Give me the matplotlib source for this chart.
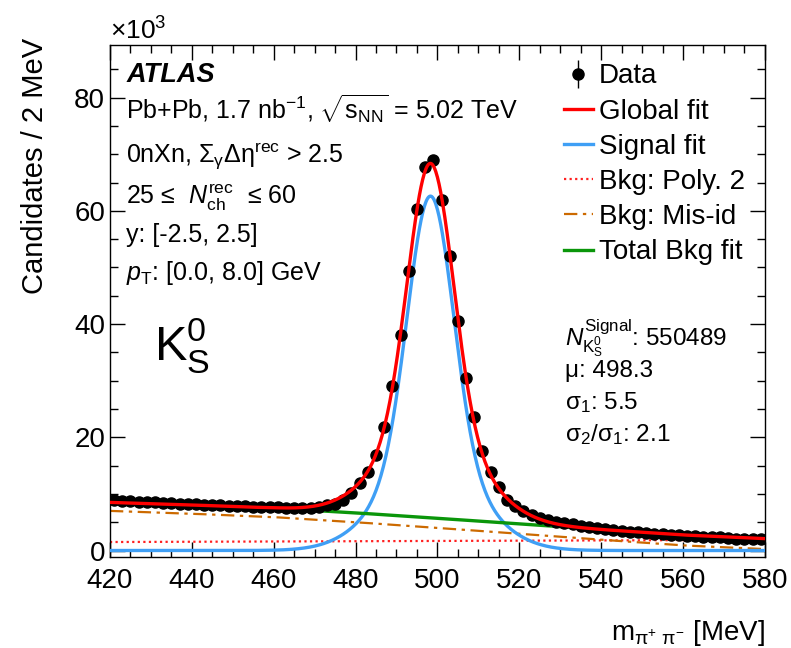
import numpy as np
import matplotlib

matplotlib.use("Agg")
import matplotlib.pyplot as plt
from matplotlib.lines import Line2D
from matplotlib.ticker import MultipleLocator

plt.rcParams["font.family"] = ["Liberation Sans", "DejaVu Sans"]
plt.rcParams["mathtext.fontset"] = "custom"
plt.rcParams["mathtext.rm"] = "Liberation Sans"
plt.rcParams["mathtext.it"] = "Liberation Sans:italic"
plt.rcParams["mathtext.bf"] = "Liberation Sans:bold"

# data, bin centres (MeV) and candidates / 2 MeV in units of 10^3
mass = np.arange(421, 580, 2)
counts = [
    8.9, 8.8, 8.7, 8.6, 8.6, 8.5, 8.4, 8.4, 8.3, 8.2,
    8.2, 8.1, 8.0, 8.0, 7.9, 7.8, 7.8, 7.7, 7.7, 7.6,
    7.6, 7.5, 7.5, 7.5, 7.5, 7.6, 8.0, 8.3, 9.0, 10.2,
    11.9, 13.9, 16.9, 21.9, 29.1, 38.0, 49.3, 60.3, 67.8, 68.9,
    61.9, 52.0, 40.5, 30.4, 23.5, 17.5, 13.8, 11.3, 8.9, 7.9,
    7.0, 6.3, 5.7, 5.4, 5.1, 4.9, 4.7, 4.4, 4.2, 4.0,
    3.8, 3.6, 3.5, 3.3, 3.2, 3.1, 3.0, 2.9, 2.8, 2.7,
    2.6, 2.5, 2.4, 2.3, 2.3, 2.2, 2.1, 2.1, 2.0, 2.0,
]

# signal fit: double gaussian (mu, sigma1, sigma2/sigma1 from the plot)
sig_mu = 498.3
sig_sigma = [5.5, 5.5 * 2.1]
sig_amp = [46.9, 15.7]

# background components sampled every 20 MeV
bkg_x = [420, 440, 460, 480, 500, 520, 540, 560, 580]
bkg_poly2 = [1.5, 1.55, 1.6, 1.65, 1.7, 1.75, 1.8, 1.85, 1.85]
bkg_misid = [7.0, 6.5, 5.9, 5.0, 4.0, 2.95, 1.9, 0.9, 0.25]

xs = np.linspace(420, 580, 801)
signal = sum(a * np.exp(-0.5 * ((xs - sig_mu) / s) ** 2) for a, s in zip(sig_amp, sig_sigma))
poly2 = np.interp(xs, bkg_x, bkg_poly2)
misid = np.interp(xs, bkg_x, bkg_misid)
total_bkg = poly2 + misid
global_fit = signal + total_bkg

RED, BLUE, ORANGE, GREEN = "#ff0000", "#3f9ff5", "#cc6a00", "#0a960a"
DOT = (0, (1, 1.5))
DASHDOT = (0, (6, 2.5, 1.5, 2.5))

fig = plt.figure(figsize=(7.91, 6.48), dpi=100)
ax = fig.add_axes([0.139, 0.1404, 0.828, 0.7902])

ax.plot(xs, poly2, color="#ff2020", lw=1.6, ls=DOT, zorder=2)
ax.plot(xs, misid, color=ORANGE, lw=1.6, ls=DASHDOT, zorder=2)
ax.plot(xs, signal, color=BLUE, lw=2.4, zorder=3)
ax.plot(xs, total_bkg, color=GREEN, lw=2.4, zorder=3)
err = np.sqrt(np.array(counts) * 1000) / 1000
ax.errorbar(mass, counts, yerr=err, fmt="o", color="black", ms=8, elinewidth=1, zorder=4)
ax.plot(xs, global_fit, color=RED, lw=2.4, zorder=5)

ax.set_xlim(420, 580)
ax.set_ylim(-1.15, 89.3)
ax.xaxis.set_major_locator(MultipleLocator(20))
ax.xaxis.set_minor_locator(MultipleLocator(5))
ax.yaxis.set_major_locator(MultipleLocator(20))
ax.yaxis.set_minor_locator(MultipleLocator(5))
ax.tick_params(which="both", direction="in", top=True, right=True, width=1, labelsize=20)
ax.tick_params(which="major", length=11)
ax.tick_params(which="minor", length=5.5)
ax.tick_params(axis="x", pad=8)
for sp in ax.spines.values():
    sp.set_linewidth(1)

fig.text(0.044, 1 - 38 / 648, "Candidates / 2 MeV", rotation=90, ha="center", va="top", fontsize=21)
fig.text(110 / 791, 1 - 40 / 648, r"×10$^{3}$", fontsize=19, ha="left", va="baseline")
fig.text(765 / 791, 1 - 640 / 648, r"m$_{\mathrm{π}^{+}\ \mathrm{π}^{-}}$ [MeV]", fontsize=20,
         ha="right", va="baseline")

# info block
tx = 0.025
ax.text(tx, 0.928, "ATLAS", transform=ax.transAxes, fontsize=19.5, fontweight="bold", style="italic")
info = [
    r"Pb+Pb, 1.7 nb$^{-1}$, $\sqrt{\mathrm{s}_{\mathrm{NN}}}$ = 5.02 TeV",
    r"0nXn, Σ$_{\mathrm{γ}}$Δη$^{\mathrm{rec}}$ > 2.5",
    r"25 ≤  $N_{\mathrm{ch}}^{\mathrm{rec}}$  ≤ 60",
    "y: [-2.5, 2.5]",
    r"$p_{\mathrm{T}}$: [0.0, 8.0] GeV",
]
info_y = [0.855, 0.770, 0.689, 0.615, 0.541]
for line, y in zip(info, info_y):
    ax.text(tx, y, line, transform=ax.transAxes, fontsize=18)
ax.text(0.068, 0.385, r"K$^{0}_{\mathrm{S}}$", transform=ax.transAxes, fontsize=35)

stats = [
    r"$N^{\mathrm{Signal}}_{\mathrm{K}^{0}_{\mathrm{S}}}$: 550489",
    "μ: 498.3",
    r"σ$_{1}$: 5.5",
    r"σ$_{2}$/σ$_{1}$: 2.1",
]
for i, line in enumerate(stats):
    ax.text(0.695, 0.413 - i * 0.062, line, transform=ax.transAxes, fontsize=17.5)

handles = [
    ax.errorbar([], [], yerr=[], fmt="o", color="black", ms=8, elinewidth=1),
    Line2D([], [], color=RED, lw=2.4),
    Line2D([], [], color=BLUE, lw=2.4),
    Line2D([], [], color="#ff2020", lw=1.6, ls=DOT),
    Line2D([], [], color=ORANGE, lw=1.6, ls=DASHDOT),
    Line2D([], [], color=GREEN, lw=2.4),
]
labels = ["Data", "Global fit", "Signal fit", "Bkg: Poly. 2", "Bkg: Mis-id", "Total Bkg fit"]
ax.legend(handles, labels, loc="upper left", bbox_to_anchor=(0.693, 0.964), frameon=False,
          fontsize=20, handlelength=1.05, handletextpad=0.22, labelspacing=0.33, borderaxespad=0,
          borderpad=0)

fig.savefig("out.png", dpi=100)
